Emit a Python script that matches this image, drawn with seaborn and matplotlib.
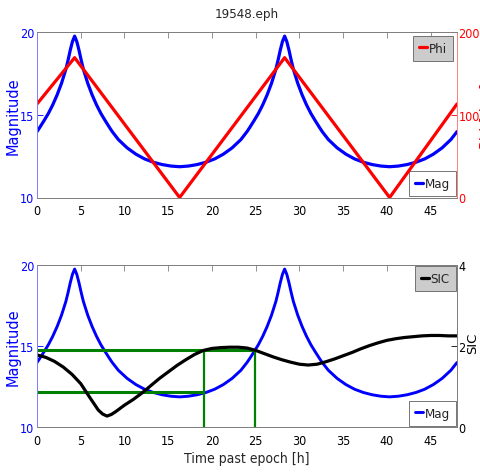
import matplotlib
matplotlib.use("Agg")
import matplotlib.pyplot as plt
import pandas as pd
import seaborn as sns

# ---------------- data ----------------
title = "19548.eph"
time_mag = [0, 0.3, 0.8, 1.3, 1.8, 2.3, 2.8, 3.3, 3.55, 3.8, 4.05, 4.3,
            4.55, 4.8, 5.05, 5.3, 5.8, 6.3, 6.8, 7.3, 7.8, 8.3, 8.6, 9.3, 10.3, 11.3, 12.3, 13.3, 14.3, 15.3, 16.3,
            17.3, 18.3, 19.3, 20.3, 21.3, 22.3, 23.3, 24.0, 24.3, 24.8, 25.3, 25.8, 26.3, 26.8, 27.3, 27.55, 27.8, 28.05, 28.3,
            28.55, 28.8, 29.05, 29.3, 29.8, 30.3, 30.8, 31.3, 31.8, 32.3, 32.6, 33.3, 34.3, 35.3, 36.3, 37.3, 38.3, 39.3, 40.3,
            41.3, 42.3, 43.3, 44.3, 45.3, 46.3, 47.3, 48]
mag = [13.98, 14.22, 14.64, 15.08, 15.6, 16.2, 16.9, 17.75, 18.3, 18.9, 19.42, 19.75,
       19.42, 18.9, 18.3, 17.75, 16.9, 16.2, 15.6, 15.08, 14.64, 14.22, 13.98, 13.5, 13.0, 12.62, 12.33, 12.13, 11.99, 11.9, 11.86,
       11.9, 11.99, 12.13, 12.33, 12.62, 13.0, 13.5, 13.98, 14.22, 14.64, 15.08, 15.6, 16.2, 16.9, 17.75, 18.3, 18.9, 19.42, 19.75,
       19.42, 18.9, 18.3, 17.75, 16.9, 16.2, 15.6, 15.08, 14.64, 14.22, 13.98, 13.5, 13.0, 12.62, 12.33, 12.13, 11.99, 11.9, 11.86,
       11.9, 11.99, 12.13, 12.33, 12.62, 13.0, 13.5, 13.98]

time_phi = [0, 4.3, 16.3, 28.3, 40.3, 48]
phi = [113, 169, 0, 169, 0, 113]

time_sic = [0, 1, 2, 3, 4, 5, 6, 7, 7.5, 8, 8.5, 9, 10, 11, 12, 13, 14, 15, 16, 17, 18, 19, 20,
            21, 22, 23, 24, 25, 26, 27, 28, 29, 30, 31, 32, 33, 34, 35, 36, 37, 38, 39, 40,
            41, 42, 43, 44, 45, 46, 47, 48]
sic = [1.78, 1.72, 1.62, 1.48, 1.3, 1.07, 0.74, 0.42, 0.32, 0.27, 0.31, 0.38, 0.54, 0.68, 0.84, 1.02,
       1.2, 1.36, 1.52, 1.66, 1.79, 1.89, 1.94, 1.96, 1.97, 1.97, 1.95, 1.89, 1.81, 1.73, 1.66,
       1.6, 1.55, 1.53, 1.55, 1.61, 1.68, 1.76, 1.84, 1.93, 2.01, 2.08, 2.14, 2.18, 2.21, 2.23,
       2.25, 2.26, 2.26, 2.25, 2.25]

green_mag_upper = 14.75
green_mag_lower = 12.15
green_t_left = 19.1
green_t_right = 24.9

x_ticks = [0, 5, 10, 15, 20, 25, 30, 35, 40, 45]
mag_ticks = [10, 15, 20]
phi_ticks = [0, 100, 200]
sic_ticks = [0, 2, 4]

# ---------------- style ----------------
sns.set_theme(style="white")
plt.rcParams["font.family"] = ["DejaVu Sans"]
plt.rcParams["font.stretch"] = "condensed"
plt.rcParams["axes.linewidth"] = 0.7

df_mag = pd.DataFrame({"t": time_mag, "mag": mag})
df_phi = pd.DataFrame({"t": time_phi, "phi": phi})
df_sic = pd.DataFrame({"t": time_sic, "sic": sic})

BLUE = "#0000ff"
RED = "#ff0000"
GREEN = "#008000"
TICK_FS = 9

fig = plt.figure(figsize=(4.81, 4.77), dpi=100)
W, H = 481.0, 477.0
ax1 = fig.add_axes([37 / W, 1 - 198.5 / H, 420 / W, 165.5 / H])
ax3 = fig.add_axes([37 / W, 1 - 428 / H, 420 / W, 162 / H])


def style_axes(ax, axr, right_color, right_spine):
    ax.set_facecolor("white")
    axr.set_facecolor("none")
    for a in (ax, axr):
        for s in ("top", "bottom"):
            a.spines[s].set_color("#808080")
            a.spines[s].set_linewidth(0.7)
        a.spines["left"].set_color("#8080ff")
        a.spines["right"].set_color(right_spine)
        a.spines["left"].set_linewidth(0.7)
        a.spines["right"].set_linewidth(0.7)
    ax.set_xlim(0, 48)
    ax.set_xticks(x_ticks)
    ax.set_ylim(10, 20)
    ax.set_yticks(mag_ticks)
    ax.tick_params(axis="x", direction="in", length=4, width=0.6, top=True,
                   colors="#808080", labelcolor="black", labelsize=TICK_FS, pad=5)
    ax.tick_params(axis="y", direction="in", length=4, width=0.6,
                   colors=BLUE, labelcolor=BLUE, labelsize=TICK_FS, pad=2)
    axr.tick_params(axis="y", direction="in", length=4, width=0.6,
                    colors=right_color, labelcolor=right_color, labelsize=TICK_FS, pad=1)
    ax.set_ylabel("Magnitude", color=BLUE, fontsize=10.5, fontstretch="normal")
    ax.yaxis.set_label_coords(-0.04, 0.5)


def style_legend(leg, face):
    fr = leg.get_frame()
    fr.set_facecolor(face)
    fr.set_edgecolor("#606060")
    fr.set_linewidth(0.6)


LEG_KW = dict(handlelength=0.6, handletextpad=0.15, borderpad=0.45,
              fontsize=9.5, fancybox=False, framealpha=1)

# ---------------- top panel ----------------
ax2 = ax1.twinx()
sns.lineplot(data=df_mag, x="t", y="mag", ax=ax1, color=BLUE, linewidth=2.3,
             estimator=None, sort=False, label="Mag")
sns.lineplot(data=df_phi, x="t", y="phi", ax=ax2, color=RED, linewidth=2.3,
             estimator=None, sort=False, label="Phi")
ax2.set_ylim(0, 200)
ax2.set_yticks(phi_ticks)
style_axes(ax1, ax2, RED, "#ff8080")
ax1.set_xlabel("")
ax2.set_ylabel("Phi [deg]", color=RED, fontsize=10.5, fontstretch="normal")
ax2.yaxis.set_label_coords(1.054, 0.5)
ax1.set_title(title, fontsize=9.5, pad=11)

style_legend(ax1.legend(loc="lower right", borderaxespad=0.1, **LEG_KW), "white")
style_legend(ax2.legend(loc="upper right", borderaxespad=0.3, **LEG_KW), "#cccccc")

# ---------------- bottom panel ----------------
ax4 = ax3.twinx()
sns.lineplot(data=df_mag, x="t", y="mag", ax=ax3, color=BLUE, linewidth=2.1,
             estimator=None, sort=False, label="Mag")
ax3.hlines([green_mag_upper], 0, green_t_right, color=GREEN, linewidth=2.2, zorder=5)
ax3.hlines([green_mag_lower], 0, green_t_left, color=GREEN, linewidth=2.2, zorder=5)
ax3.vlines([green_t_left, green_t_right], 10, green_mag_upper, color=GREEN, linewidth=1.6, zorder=5)
sns.lineplot(data=df_sic, x="t", y="sic", ax=ax4, color="black", linewidth=2.3,
             estimator=None, sort=False, label="SIC")
ax4.set_ylim(0, 4)
ax4.set_yticks(sic_ticks)
style_axes(ax3, ax4, "black", "#808080")
ax3.set_xlabel("Time past epoch [h]", fontsize=10, labelpad=3)
ax4.set_ylabel("SIC", color="black", fontsize=9.5, fontstretch="normal")
ax4.yaxis.set_label_coords(1.022, 0.52)

style_legend(ax3.legend(loc="lower right", borderaxespad=0.1, **LEG_KW), "white")
style_legend(ax4.legend(loc="upper right", borderaxespad=0.1, **LEG_KW), "#cccccc")

fig.savefig("out.png", dpi=100)
